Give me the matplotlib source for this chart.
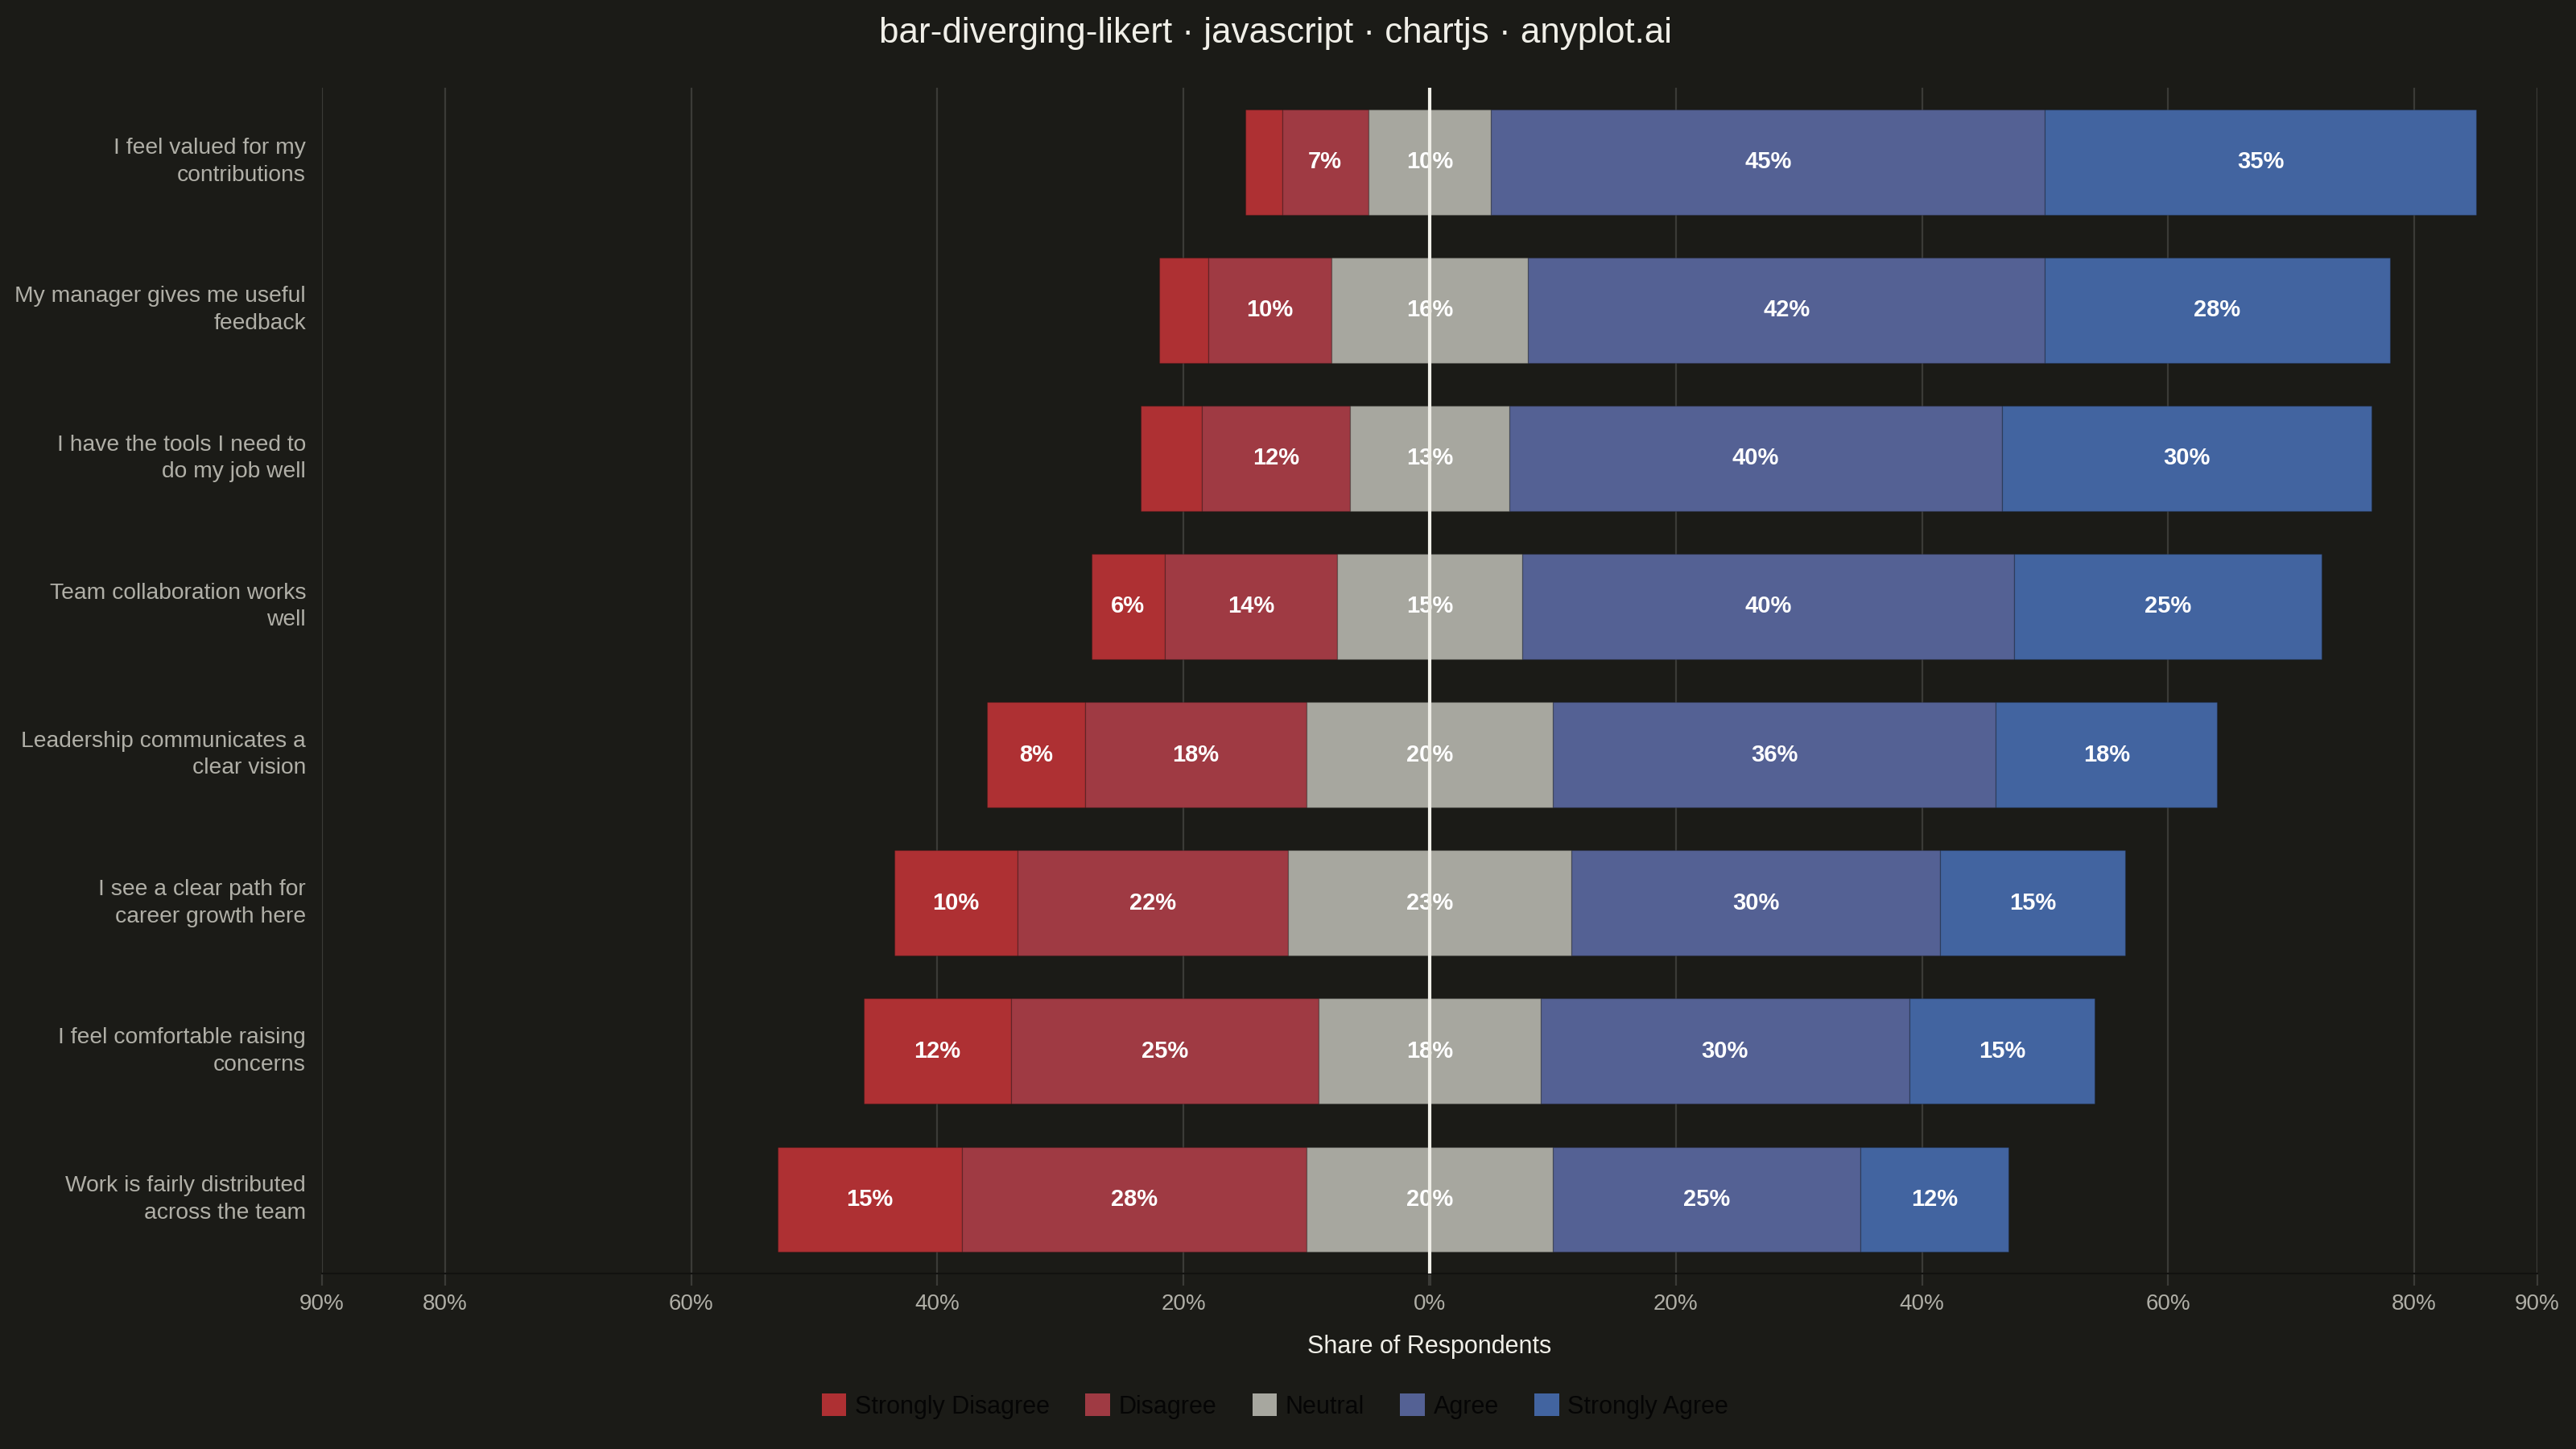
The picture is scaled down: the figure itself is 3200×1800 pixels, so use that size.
import matplotlib
matplotlib.use("Agg")
import matplotlib.pyplot as plt
from matplotlib.patches import Patch
import numpy as np

plt.rcParams['font.family'] = ['Liberation Sans', 'DejaVu Sans']

questions = [
    "I feel valued for my\ncontributions",
    "My manager gives me useful\nfeedback",
    "I have the tools I need to\ndo my job well",
    "Team collaboration works\nwell",
    "Leadership communicates a\nclear vision",
    "I see a clear path for\ncareer growth here",
    "I feel comfortable raising\nconcerns",
    "Work is fairly distributed\nacross the team",
]
levels = ["Strongly Disagree", "Disagree", "Neutral", "Agree", "Strongly Agree"]
strongly_disagree = [3, 4, 5, 6, 8, 10, 12, 15]
disagree = [7, 10, 12, 14, 18, 22, 25, 28]
neutral = [10, 16, 13, 15, 20, 23, 18, 20]
agree = [45, 42, 40, 40, 36, 30, 30, 25]
strongly_agree = [35, 28, 30, 25, 18, 15, 15, 12]
tick_values = [-90, -80, -60, -40, -20, 0, 20, 40, 60, 80, 90]

colors = ['#AE3033', '#9F3A43', '#A7A79F', '#546194', '#4264A0']
BG = '#1B1B17'
GRID = '#3B3B37'
TXT = '#F0EFE8'
MUTED = '#B0AFA7'

series = [strongly_disagree, disagree, neutral, agree, strongly_agree]

fig = plt.figure(figsize=(16, 9), dpi=200, facecolor=BG)
ax = fig.add_axes([0.125, 0.1211, 0.860, 0.8183])
ax.set_facecolor(BG)

y = np.arange(len(questions))
start = -(np.array(strongly_disagree) + np.array(disagree) + np.array(neutral) / 2.0)
left = start.astype(float).copy()
for vals, col in zip(series, colors):
    vals = np.array(vals, dtype=float)
    ax.barh(y, vals, left=left, height=0.71, color=col,
            edgecolor=(0, 0, 0, 0.18), linewidth=0.5, zorder=2)
    for yi, l, v in zip(y, left, vals):
        if v >= 6:
            ax.text(l + v / 2, yi, f"{int(v)}%", ha='center', va='center',
                    color='white', fontsize=10.5, fontweight='bold', zorder=4)
    left = left + vals

ax.set_xlim(-90, 90)
ax.set_ylim(len(questions) - 0.5, -0.5)
ax.set_xticks(tick_values)
ax.set_xticklabels([f"{abs(v)}%" for v in tick_values])
ax.set_yticks(y)
ax.set_yticklabels([])

# category labels (placed at each category's y position)
ytrans = ax.get_yaxis_transform()
for yi, q in zip(y, questions):
    ax.annotate(q, xy=(0, yi), xycoords=ytrans, xytext=(-7.2, 0),
                textcoords='offset points', ha='right', va='center',
                ma='right', linespacing=1.38, color=MUTED, fontsize=10.2,
                annotation_clip=False)

ax.grid(axis='x', color=GRID, linewidth=0.8, zorder=0)
ax.set_axisbelow(True)
ax.axvline(0, color=TXT, linewidth=1.5, zorder=5)

for s in ['top', 'right', 'left']:
    ax.spines[s].set_visible(False)
ax.spines['bottom'].set_color('#121210')
ax.spines['bottom'].set_linewidth(0.8)

ax.tick_params(axis='x', colors=GRID, length=5.4, width=0.8, pad=3.5,
               labelcolor=MUTED, labelsize=10)
ax.tick_params(axis='y', length=0)
for t, v in zip(ax.xaxis.get_major_ticks(), tick_values):
    if v == 0:
        t.tick1line.set_color(TXT)
        t.tick1line.set_markeredgewidth(1.5)

ax.set_xlabel("Share of Respondents", color=TXT, fontsize=11, labelpad=9)

fig.text(0.495, 1 - 41 / 1800, "bar-diverging-likert · javascript · chartjs · anyplot.ai",
         ha='center', va='center', color=TXT, fontsize=15.8)

handles = [Patch(facecolor=c, edgecolor='none', label=l) for c, l in zip(colors, levels)]
leg = fig.legend(handles=handles, loc='center', bbox_to_anchor=(0.495, 1 - 1747 / 1800),
                 ncol=5, frameon=False, fontsize=11, labelcolor='#050505',
                 handlelength=1.0, handleheight=1.0, handletextpad=0.35,
                 columnspacing=1.45)

fig.savefig("out.png", dpi=200, facecolor=BG)
